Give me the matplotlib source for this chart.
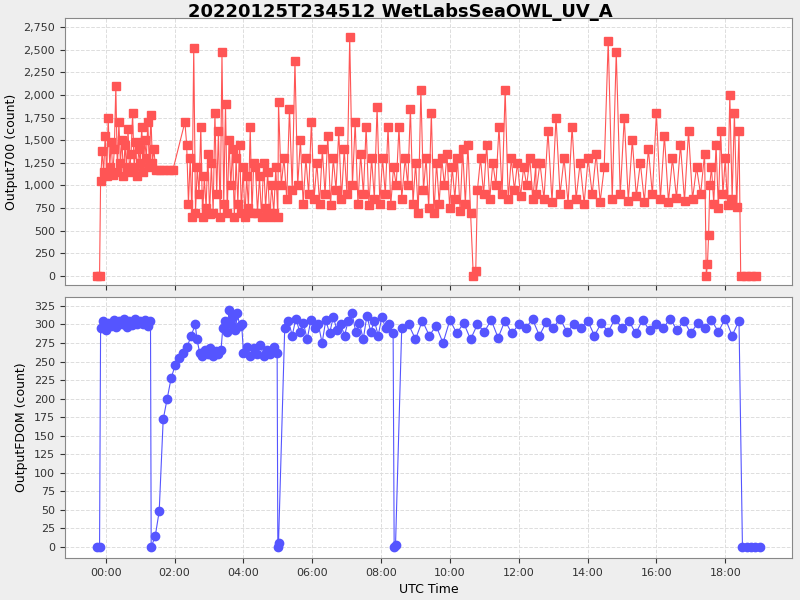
import numpy as np
import matplotlib
matplotlib.use("Agg")
import matplotlib.pyplot as plt
from matplotlib.ticker import FuncFormatter, MultipleLocator

# each segment: start hour, end hour
out700_segments = [
    (-0.25, -0.18, "0 0"),
    (-0.15, 1.4, "1050 1380 1150 1550 1100 1750 1200 1480 1120 1400 2100 1150 1700 1250 1500 1100 1450 1200 1620 1150 1350 1800 1200 1480 1100 1400 1250 1650 1150 1500 1300 1700 1200 1780 1250 1400"),
    (1.45, 1.95, "1170 1170 1170 1170 1170"),
    (2.3, 4.3, "1700 1450 800 1300 650 2520 700 1200 900 1650 650 1100 750 1350 680 1250 700 1800 900 1600 650 2470 800 1900 700 1500 1000 1400 650 1300 800 1450 700 1200 650 1100 750 1650 700 1250"),
    (4.35, 5.0, "1200 700 1100 650 1250 750 1150 650 1000 700 1200 650"),
    (5.02, 8.6, "1920 1000 1300 850 1850 950 2370 1000 1500 800 1300 900 1700 850 1250 800 1400 900 1550 780 1300 950 1600 850 1400 900 2640 1000 1700 800 1350 900 1650 780 1300 850 1870 800 1300 900 1650 780 1200 1000 1650 850"),
    (8.7, 10.6, "1300 1000 1850 800 1250 700 2050 950 1300 750 1800 700 1250 800 1300 1000 1350 750 1200 850 1300 720 1400 800 1450 700"),
    (10.68, 10.75, "0 50"),
    (10.8, 12.5, "950 1300 900 1450 850 1250 1000 1650 900 2050 850 1300 950 1250 880 1200 1000 1300 850 1250"),
    (12.5, 17.4, "900 1250 850 1600 820 1750 900 1300 800 1650 850 1250 800 1300 900 1350 820 1200 2600 850 2470 900 1750 830 1500 880 1250 820 1400 900 1800 850 1550 820 1300 860 1450 830 1600 850 1200 900 1350"),
    (17.45, 17.55, "0 130 450 1000"),
    (17.6, 18.4, "1200 800 1450 750 1600 900 1300 780 2000 850 1800 760 1600"),
    (18.45, 18.9, "0 0 0 0"),
]

fdom_segments = [
    (-0.25, -0.18, "0 0"),
    (-0.15, 1.3, "295 305 292 302 298 306 296 304 300 307 297 305 299 308 301 304 300 306 298 305"),
    (1.32, 2.6, "0 14 48 172 200 228 245 255 262 270 285 300"),
    (2.65, 3.35, "280 262 258 266 260 268 258 264 260 266"),
    (3.4, 3.95, "295 305 290 320 300 310 292 315 298 300"),
    (4.0, 4.98, "262 270 258 268 260 272 258 266 260 270 262"),
    (5.0, 5.02, "0 5"),
    (5.2, 8.35, "295 305 285 308 290 302 280 306 295 300 275 306 288 310 292 300 285 305 315 290 302 280 312 290 305 285 310 295 300 288"),
    (8.38, 8.42, "0 3"),
    (8.6, 18.4, "295 300 280 305 285 298 275 306 288 302 280 300 290 306 282 305 288 300 295 307 285 303 295 308 290 300 295 305 285 302 290 308 295 305 288 306 292 300 295 308 292 305 288 302 295 306 290 308 285 305"),
    (18.5, 19.0, "0 0 0 0 0"),
]


def build(segments):
    t, v = [], []
    for start, end, vals in segments:
        vals = [float(x) for x in vals.split()]
        t.extend(np.linspace(start, end, len(vals)))
        v.extend(vals)
    return np.array(t), np.array(v)


def hour_fmt(x, pos):
    h = int(round(x))
    return f"{h:02d}:00"


t1, v1 = build(out700_segments)
t2, v2 = build(fdom_segments)

fig = plt.figure(figsize=(8, 6), dpi=100, facecolor="#eeeeee")
fig.text(0.5, 0.98, "20220125T234512 WetLabsSeaOWL_UV_A", fontsize=13,
         fontweight="bold", ha="center", va="center")

ax1 = fig.add_axes([0.081, 0.525, 0.909, 0.445])
ax2 = fig.add_axes([0.081, 0.07, 0.909, 0.435])

for ax in (ax1, ax2):
    ax.set_facecolor("white")
    ax.grid(True, color="#dddddd", linestyle="--", linewidth=0.7)
    ax.set_xlim(-1.19, 19.94)
    ax.xaxis.set_major_locator(MultipleLocator(2))
    ax.xaxis.set_major_formatter(FuncFormatter(hour_fmt))
    ax.tick_params(labelsize=8, colors="#333333")
    for s in ax.spines.values():
        s.set_color("#888888")

ax1.plot(t1, v1, color="#ff5555", lw=0.8, marker="s", ms=6)
ax1.set_ylim(-100, 2850)
ax1.yaxis.set_major_locator(MultipleLocator(250))
ax1.yaxis.set_major_formatter(FuncFormatter(lambda x, p: f"{int(x):,}"))
ax1.set_ylabel("Output700 (count)", fontsize=9)
ax1.tick_params(labelbottom=False)

ax2.plot(t2, v2, color="#5555ff", lw=0.8, marker="o", ms=6)
ax2.set_ylim(-15, 337)
ax2.yaxis.set_major_locator(MultipleLocator(25))
ax2.set_ylabel("OutputFDOM (count)", fontsize=9)
ax2.set_xlabel("UTC Time", fontsize=9)

fig.savefig("out.png", dpi=100, facecolor=fig.get_facecolor())
